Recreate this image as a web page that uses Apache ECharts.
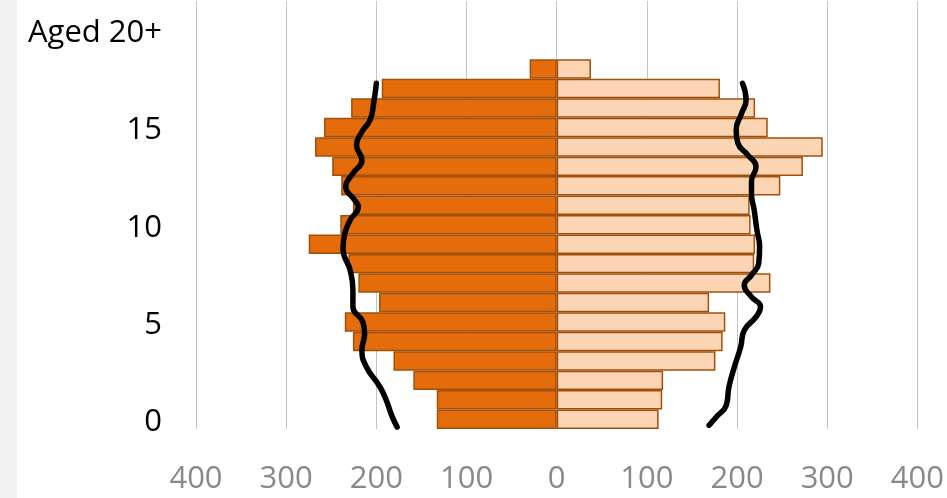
<!DOCTYPE html>
<html>
<head>
<meta charset="utf-8">
<script src="https://cdn.jsdelivr.net/npm/echarts@6/dist/echarts.min.js"></script>
<style>
html,body{margin:0;padding:0;background:#fff;}
#chart{width:947px;height:498px;}
</style>
</head>
<body>
<div id="chart"></div>
<script>
// Age categories (index 20 is labelled "Aged 20+")
const ages = ['0','1','2','3','4','5','6','7','8','9','10','11','12','13','14','15','16','17','18','19','Aged 20+',''];
const shownAgeLabels = [0, 5, 10, 15, 20];
// Left side (dark orange) bar values, by age 0..18
const leftValues = [133,133,159,181,226,235,197,220,231,275,240,226,239,249,268,258,228,194,30];
// Right side (light peach) bar values, by age 0..18
const rightValues = [113,117,118,176,184,187,169,237,219,220,215,214,248,273,295,234,220,181,38];
// Reference curves: [value, age position] pairs
const leftCurveX = [177,183,189,196,211,216,213,215,226,226,229,237,235,229,220,224,234,226,216,222,216,207,203,200];
const leftCurveY = [0.10,0.70,1.48,2.16,3.19,4.05,4.91,5.50,6.28,7.12,8.15,9.28,10.05,10.74,11.42,11.76,12.45,13.14,13.82,14.59,15.28,15.88,16.74,17.77];
const rightCurveX = [169,177,188,191,197,204,208,221,226,216,208,216,224,225,222,219,216,216,221,212,201,199,205,210,206];
const rightCurveY = [0.19,0.62,1.22,2.16,3.19,4.22,5.08,5.76,6.28,6.79,7.39,7.91,8.51,9.36,10.22,11.25,12.11,12.71,13.48,14.08,14.68,15.37,16.22,16.91,17.77];
// Axis ticks
const xMin = -400, xMax = 400, xStep = 100;

const font = 'Open Sans';
const leftData = ages.map((a, i) => i < leftValues.length ? -leftValues[i] : null);
const rightData = ages.map((a, i) => i < rightValues.length ? rightValues[i] : null);
const leftCurve = leftCurveX.map((v, i) => [-v, leftCurveY[i]]);
const rightCurve = rightCurveX.map((v, i) => [v, rightCurveY[i]]);

const chart = echarts.init(document.getElementById('chart'), null, {renderer: 'canvas'});
chart.setOption({
  backgroundColor: '#ffffff',
  animation: false,
  graphic: [{
    type: 'rect', left: 0, top: 0, silent: true, z: -10,
    shape: {width: 17, height: 498}, style: {fill: '#f2f2f2'}
  }],
  grid: {left: 196, right: 29, top: 1, bottom: 69, containLabel: false},
  xAxis: {
    type: 'value', min: xMin, max: xMax, interval: xStep,
    axisLine: {show: false}, axisTick: {show: false},
    splitLine: {show: true, lineStyle: {color: '#c4c4c4', width: 1}},
    axisLabel: {
      formatter: v => String(Math.abs(v)),
      color: '#898989', fontSize: 31, fontFamily: font, margin: 35
    }
  },
  yAxis: [{
    type: 'category', data: ages,
    axisLine: {show: false}, axisTick: {show: false}, splitLine: {show: false},
    axisLabel: {
      interval: (idx) => shownAgeLabels.includes(idx),
      color: '#000000', fontSize: 31, fontFamily: font, margin: 34,
      verticalAlign: 'top', lineHeight: 6
    }
  }, {
    type: 'value', min: 0, max: ages.length, show: false
  }],
  series: [{
    type: 'bar', name: 'left', data: leftData, stack: 'p',
    barCategoryGap: '0%', yAxisIndex: 0,
    itemStyle: {color: '#E46C0A', borderColor: '#A0500B', borderWidth: 1.5}
  }, {
    type: 'bar', name: 'right', data: rightData, stack: 'p',
    barCategoryGap: '0%', yAxisIndex: 0,
    itemStyle: {color: '#FCD5B5', borderColor: '#A0500B', borderWidth: 1.5}
  }, {
    type: 'line', data: leftCurve, yAxisIndex: 1, smooth: 0.5, showSymbol: false,
    lineStyle: {color: '#000', width: 5.5, cap: 'round'}, z: 5
  }, {
    type: 'line', data: rightCurve, yAxisIndex: 1, smooth: 0.5, showSymbol: false,
    lineStyle: {color: '#000', width: 5.5, cap: 'round'}, z: 5
  }]
});
</script>
</body>
</html>
